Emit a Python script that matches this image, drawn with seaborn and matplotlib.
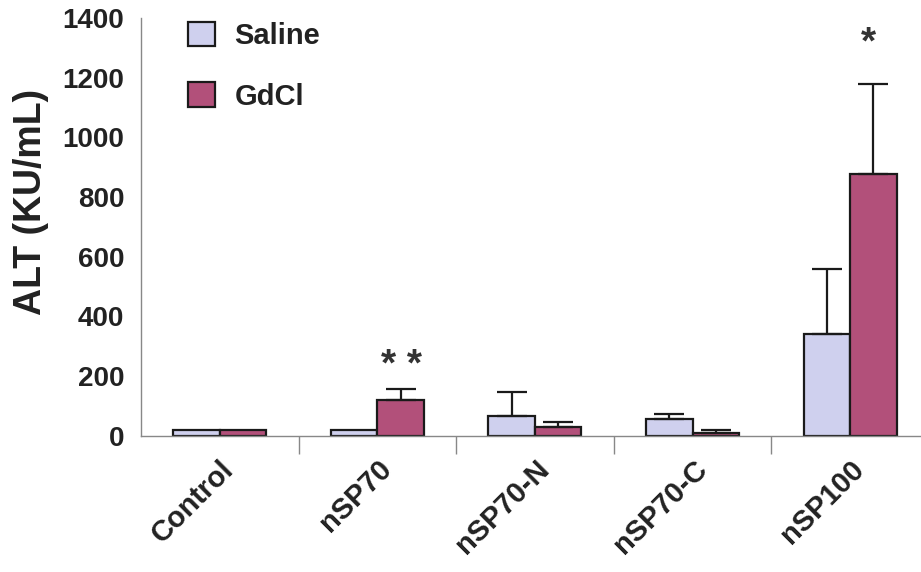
import matplotlib
matplotlib.use("Agg")
import matplotlib.pyplot as plt
import matplotlib.transforms as mtransforms
import seaborn as sns
import pandas as pd
import numpy as np

categories = ["Control", "nSP70", "nSP70-N", "nSP70-C", "nSP100"]
groups = ["Saline", "GdCl"]
saline_mean = [20, 20, 64, 54, 339]
saline_err = [0, 0, 81, 19, 219]
gdcl_mean = [20, 120, 27, 8, 877]
gdcl_err = [0, 35, 18, 9, 303]
colors = ["#cfd0ee", "#b2507a"]

df = pd.DataFrame({
    "category": categories * 2,
    "group": [groups[0]] * len(categories) + [groups[1]] * len(categories),
    "value": saline_mean + gdcl_mean,
})
errs = [saline_err, gdcl_err]

sns.set_theme(style="white")
plt.rcParams['font.family'] = ['Liberation Sans', 'DejaVu Sans']

fig = plt.figure(figsize=(9.21, 5.72), dpi=100)
ax = fig.add_axes([0.153, 0.2386, 0.8556, 0.730])

sns.barplot(data=df, x="category", y="value", hue="group", order=categories,
            hue_order=groups, palette=colors, width=0.59, edgecolor="#1a1a1a",
            linewidth=1.6, ax=ax, errorbar=None, saturation=1)

for cont, err in zip(ax.containers, errs):
    for patch, e in zip(cont.patches, err):
        if e <= 0:
            continue
        xc = patch.get_x() + patch.get_width() / 2
        h = patch.get_height()
        ax.errorbar(xc, h, yerr=[[0], [e]], fmt="none", ecolor="#1a1a1a",
                    elinewidth=1.6, capsize=11, capthick=1.6)

ax.set_ylim(0, 1400)
ax.set_xlim(-0.5, 4.5)
ax.set_yticks(np.arange(0, 1401, 200))
ax.set_ylabel("ALT (KU/mL)", fontsize=27, fontweight="bold", color="#222222")
ax.yaxis.set_label_coords(-0.117, 0.559)
ax.set_xlabel("")
for s in ["top", "right"]:
    ax.spines[s].set_visible(False)
for s in ["left", "bottom"]:
    ax.spines[s].set_color("#888888")
    ax.spines[s].set_linewidth(1.0)

ax.tick_params(axis="y", direction="in", length=10, width=1, color="#888888",
               labelsize=20, pad=12, labelcolor="#222222")
for lab in ax.get_yticklabels():
    lab.set_fontweight("bold")
ax.set_xticks(range(len(categories)))
ax.set_xticklabels(categories, rotation=45, ha="right", rotation_mode="anchor",
                   fontsize=21, fontweight="bold", color="#222222")
offset = mtransforms.ScaledTranslation(14 / 100, 0, fig.dpi_scale_trans)
for lab in ax.get_xticklabels():
    lab.set_transform(lab.get_transform() + offset)
ax.tick_params(axis="x", which="major", length=0, pad=14)
ax.set_xticks([0.5, 1.5, 2.5, 3.5], minor=True)
ax.tick_params(axis="x", which="minor", direction="out", length=13, width=1,
               color="#888888", bottom=True)

# significance marks
ax.text(1.156, 200, "* *", ha="center", va="baseline", fontsize=28,
        fontweight="bold", color="#333333")
ax.text(4.117, 1280, "*", ha="center", va="baseline", fontsize=28,
        fontweight="bold", color="#333333")

leg = ax.legend(loc="upper left", bbox_to_anchor=(0.026, 1.054), frameon=False,
                fontsize=21, handlelength=0.95, handleheight=0.9,
                labelspacing=1.12, handletextpad=0.65)
for t in leg.get_texts():
    t.set_fontweight("bold")
    t.set_color("#222222")

fig.savefig("out.png", dpi=100)
